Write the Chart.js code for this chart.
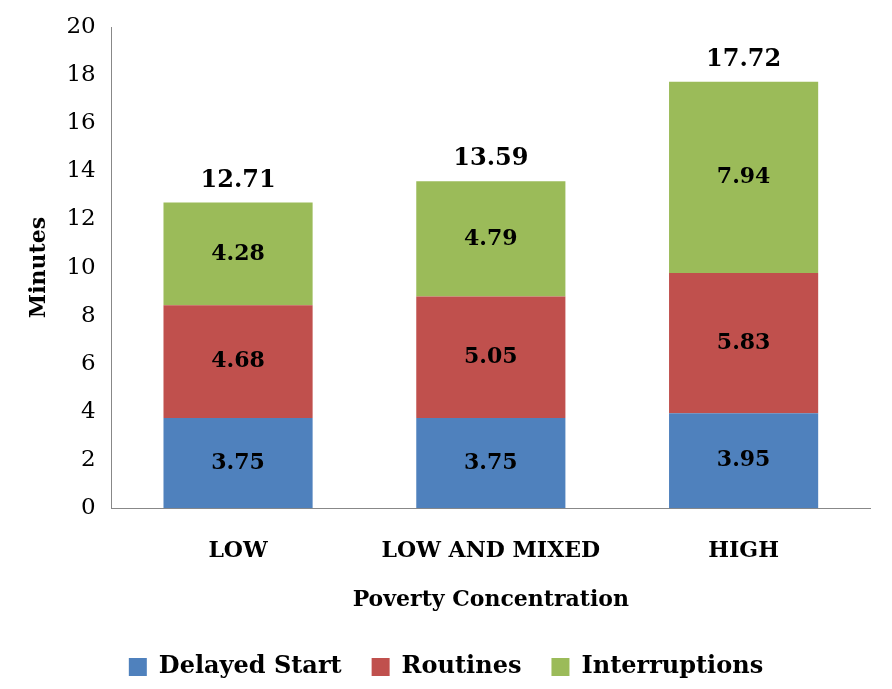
<!DOCTYPE html>
<html>
<head>
<meta charset="utf-8">
<script src="https://cdn.jsdelivr.net/npm/chart.js@4/dist/chart.umd.min.js"></script>
<style>
html,body{margin:0;padding:0;background:#fff;}
#wrap{width:892px;height:689px;}
</style>
</head>
<body>
<div id="wrap"><canvas id="c" width="892" height="689"></canvas></div>
<script>
const categories = ["LOW", "LOW AND MIXED", "HIGH"];
const delayedStart = [3.75, 3.75, 3.95];
const routines = [4.68, 5.05, 5.83];
const interruptions = [4.28, 4.79, 7.94];
const totals = [12.71, 13.59, 17.72];

const FONT = "'DejaVu Serif', 'Liberation Serif', serif";

const totalsPlugin = {
  id: "totals",
  afterDatasetsDraw(chart) {
    const ctx = chart.ctx;
    const meta = chart.getDatasetMeta(2);
    ctx.save();
    ctx.font = "bold 24px " + FONT;
    ctx.fillStyle = "#000";
    ctx.textAlign = "center";
    ctx.textBaseline = "bottom";
    meta.data.forEach((bar, i) => {
      ctx.fillText(totals[i].toFixed(2), bar.x, bar.y - 10);
    });
    // segment values
    ctx.font = "bold 22px " + FONT;
    ctx.textBaseline = "middle";
    chart.data.datasets.forEach((ds, di) => {
      chart.getDatasetMeta(di).data.forEach((bar, i) => {
        ctx.fillText(ds.data[i].toFixed(2), bar.x, (bar.y + bar.base) / 2);
      });
    });
    ctx.restore();
  }
};

new Chart(document.getElementById("c").getContext("2d"), {
  type: "bar",
  data: {
    labels: categories,
    datasets: [
      { label: "Delayed Start", data: delayedStart, backgroundColor: "#4f81bd" },
      { label: "Routines", data: routines, backgroundColor: "#c0504d" },
      { label: "Interruptions", data: interruptions, backgroundColor: "#9bbb59" }
    ]
  },
  options: {
    responsive: false,
    animation: false,
    layout: { padding: { top: 27, right: 22, left: 22, bottom: 0 } },
    datasets: { bar: { barPercentage: 0.59, categoryPercentage: 1 } },
    scales: {
      x: {
        stacked: true,
        grid: { display: false },
        border: { color: "#888" },
        ticks: { color: "#000", font: { family: FONT, size: 22, weight: "bold" }, padding: 22 },
        title: { display: true, text: "Poverty Concentration", color: "#000", font: { family: FONT, size: 22, weight: "bold" }, padding: { top: 0, bottom: 12 } }
      },
      y: {
        stacked: true,
        min: 0, max: 20,
        ticks: { stepSize: 2, color: "#000", font: { family: FONT, size: 23 }, padding: 10 },
        grid: { display: false, drawTicks: true, tickLength: 6 },
        border: { color: "#888" },
        title: { display: true, text: "Minutes", color: "#000", font: { family: FONT, size: 22, weight: "bold" } }
      }
    },
    plugins: {
      legend: {
        position: "bottom",
        labels: { color: "#000", font: { family: FONT, size: 24, weight: "bold" }, boxWidth: 18, boxHeight: 18, padding: 30 }
      },
      tooltip: { enabled: false }
    }
  },
  plugins: [totalsPlugin]
});
</script>
</body>
</html>
